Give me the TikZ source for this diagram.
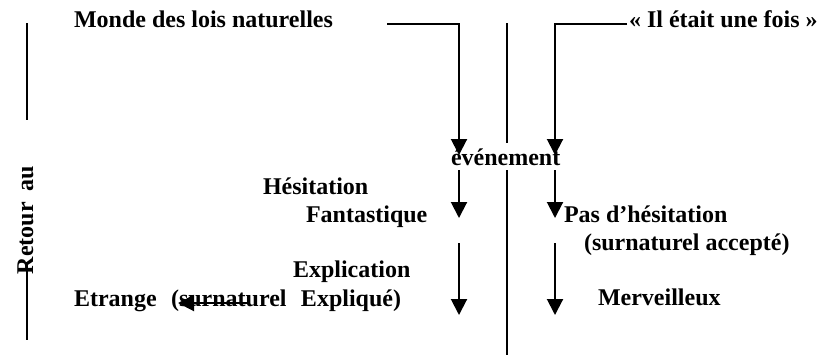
\documentclass[tikz,border=0pt]{standalone}
\usepackage{fontspec}
\setmainfont{Liberation Serif}
\usetikzlibrary{arrows.meta}

\begin{document}
\begin{tikzpicture}[x=0.5pt,y=-0.5pt,line width=1pt,
		txt/.style={anchor=base west,inner sep=0pt,font=\fontsize{12}{14}\selectfont\bfseries},
		fleche/.style={-{Triangle[length=8pt,width=8pt]}}]
		\useasboundingbox (0,0) rectangle (822,360);

		% Textes
		\node[txt] (monde) at (73,27) {Monde des lois naturelles};
		\node[txt] (fois) at (628,27) {« Il était une fois »};
		\node[txt] (evt) at (450,165) {événement};
		\node[txt] (hesit) at (262,194) {Hésitation};
		\node[txt] (fant) at (305,222) {Fantastique};
		\node[txt] (pas) at (563,222) {Pas d’hésitation};
		\node[txt] (accepte) at (583,250) {(surnaturel accepté)};
		\node[txt] (expl) at (292,277) {Explication};
		\node[txt] (etrange) at (73,306)
			{Etrange\hspace{0.6em}(surnaturel\hspace{0.6em}Expliqué)};
		\node[txt] (merv) at (597,305) {Merveilleux};
		\node[txt,rotate=90] (retour) at (33,275) {Retour\hspace{0.45em}au};

		% Axe central
		\coordinate (cH) at (507,23);
		\coordinate (cM) at (507,143);
		\coordinate (cN) at (507,170);
		\coordinate (cB) at (507,355);
		\draw (cH) -- (cM);
		\draw (cN) -- (cB);

		% Trait de gauche
		\coordinate (gH) at (27,23);
		\coordinate (gM) at (27,120);
		\coordinate (gN) at (27,262);
		\coordinate (gB) at (27,340);
		\draw (gH) -- (gM);
		\draw (gN) -- (gB);

		% Vers l'événement
		\coordinate (mD) at (387,24);
		\coordinate (fD) at (627,24);
		\coordinate (eG) at (459,155);
		\coordinate (eD) at (555,155);
		\draw[fleche] (mD) -| (eG);
		\draw[fleche] (fD) -| (eD);

		% Sous l'événement
		\coordinate (a1) at (459,170);
		\coordinate (b1) at (459,218);
		\coordinate (a2) at (555,170);
		\coordinate (b2) at (555,218);
		\draw[fleche] (a1) -- (b1);
		\draw[fleche] (a2) -- (b2);

		\coordinate (a3) at (459,243);
		\coordinate (b3) at (459,315);
		\coordinate (a4) at (555,243);
		\coordinate (b4) at (555,315);
		\draw[fleche] (a3) -- (b3);
		\draw[fleche] (a4) -- (b4);

		% Retour vers l'étrange
		\coordinate (r1) at (250,303);
		\coordinate (r2) at (178,303);
		\draw[fleche] (r1) -- (r2);
	\end{tikzpicture}
\end{document}
